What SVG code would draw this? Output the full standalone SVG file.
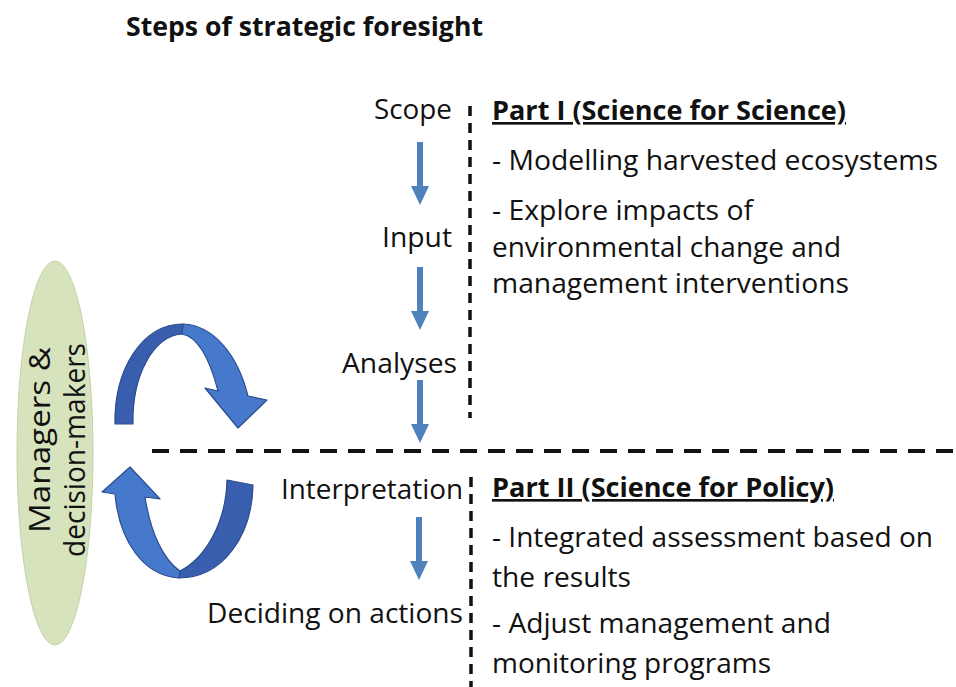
<svg xmlns="http://www.w3.org/2000/svg" width="956" height="687" viewBox="0 0 956 687">
  <style>
    text { font-family: "Open Sans", "Liberation Sans", Arial, sans-serif; fill: #111; }
    .body { font-size: 26.5px; }
    .side { font-size: 29px; }
    .bold { font-size: 26.5px; font-weight: bold; }
    .title { font-size: 27px; font-weight: bold; }
    .ul { text-decoration: underline; }
    .step-arrow { fill: #4f81bd; }
    .dash-h { stroke: #111; stroke-width: 4; stroke-dasharray: 17 11; fill: none; }
    .dash-v { stroke: #111; stroke-width: 3.5; stroke-dasharray: 10 7; fill: none; }
    .loop-dark { fill: #3a5eae; stroke: #2c4c8f; stroke-width: 1.2; stroke-linejoin: round; }
    .loop-light { fill: #4679cc; stroke: #2c4c8f; stroke-width: 1.2; stroke-linejoin: round; }
  </style>
  <defs>
    <!-- downward block arrow, tip at (0,0) -->
    <path id="down-arrow" d="M-3,-63 L3,-63 L3,-19 L9,-19 L0,0 L-9,-19 L-3,-19 Z"/>
  </defs>

  <rect width="956" height="687" fill="#ffffff"/>

  <text class="title" x="126" y="36" textLength="357" lengthAdjust="spacingAndGlyphs">Steps of strategic foresight</text>

  <!-- stakeholders -->
  <g id="managers">
    <ellipse cx="55" cy="453" rx="38" ry="192" fill="#d7e3bd" stroke="#c4d1a9" stroke-width="1"/>
    <text class="side" transform="translate(50,440) rotate(-90)" text-anchor="middle" textLength="186" lengthAdjust="spacingAndGlyphs">Managers &amp;</text>
    <text class="side" transform="translate(85,450) rotate(-90)" text-anchor="middle" textLength="214" lengthAdjust="spacingAndGlyphs">decision-makers</text>
  </g>

  <!-- exchange loops -->
  <g id="loop-up">
    <path class="loop-dark" d="M115,424 C114,368 143,324 183,324 L182,334 C153,336 132,376 133,424 Z"/>
    <path class="loop-light" d="M183,324 C214,325 238,356 248,396 L267,400 L238,428 L205,388 L218,391 C210,360 198,337 182,334 Z"/>
  </g>
  <g id="loop-down">
    <path class="loop-dark" d="M227,480 L253,485 C252,537 222,578 179,578 L180,571 C206,558 226,522 227,480 Z"/>
    <path class="loop-light" d="M179,578 C143,576 119,540 115,494 L102,492 L130,467 L160,499 L145,497 C151,535 164,560 180,571 Z"/>
  </g>

  <!-- steps -->
  <g id="step-scope"><text class="body" x="374" y="119" textLength="78" lengthAdjust="spacingAndGlyphs">Scope</text></g>
  <g id="step-input"><text class="body" x="382" y="247" textLength="70" lengthAdjust="spacingAndGlyphs">Input</text></g>
  <g id="step-analyses"><text class="body" x="342" y="373" textLength="115" lengthAdjust="spacingAndGlyphs">Analyses</text></g>
  <g id="step-interpretation"><text class="body" x="281" y="499" textLength="182" lengthAdjust="spacingAndGlyphs">Interpretation</text></g>
  <g id="step-deciding"><text class="body" x="207" y="623" textLength="256" lengthAdjust="spacingAndGlyphs">Deciding on actions</text></g>

  <!-- part descriptions -->
  <g id="part-1">
    <text class="bold ul" x="492" y="120" textLength="354" lengthAdjust="spacingAndGlyphs">Part I (Science for Science)</text>
    <text class="body" x="492" y="170" textLength="446" lengthAdjust="spacingAndGlyphs">- Modelling harvested ecosystems</text>
    <text class="body" x="492" y="220" textLength="261" lengthAdjust="spacingAndGlyphs">- Explore impacts of</text>
    <text class="body" x="492" y="257" textLength="349" lengthAdjust="spacingAndGlyphs">environmental change and</text>
    <text class="body" x="492" y="293" textLength="357" lengthAdjust="spacingAndGlyphs">management interventions</text>
  </g>
  <g id="part-2">
    <text class="bold ul" x="492" y="497" textLength="342" lengthAdjust="spacingAndGlyphs">Part II (Science for Policy)</text>
    <text class="body" x="492" y="547" textLength="441" lengthAdjust="spacingAndGlyphs">- Integrated assessment based on</text>
    <text class="body" x="492" y="587" textLength="139" lengthAdjust="spacingAndGlyphs">the results</text>
    <text class="body" x="492" y="633" textLength="339" lengthAdjust="spacingAndGlyphs">- Adjust management and</text>
    <text class="body" x="492" y="673" textLength="279" lengthAdjust="spacingAndGlyphs">monitoring programs</text>
  </g>

  <!-- connectors and dividers -->
  <g id="connectors">
    <use href="#down-arrow" class="step-arrow" x="420" y="205"/>
    <use href="#down-arrow" class="step-arrow" x="420" y="330"/>
    <use href="#down-arrow" class="step-arrow" x="420" y="443"/>
    <use href="#down-arrow" class="step-arrow" x="419" y="580"/>
    <line class="dash-h" x1="152" y1="451" x2="956" y2="451"/>
    <line class="dash-v" x1="470" y1="106" x2="470" y2="418"/>
    <line class="dash-v" x1="471" y1="477" x2="471" y2="687"/>
  </g>
</svg>
